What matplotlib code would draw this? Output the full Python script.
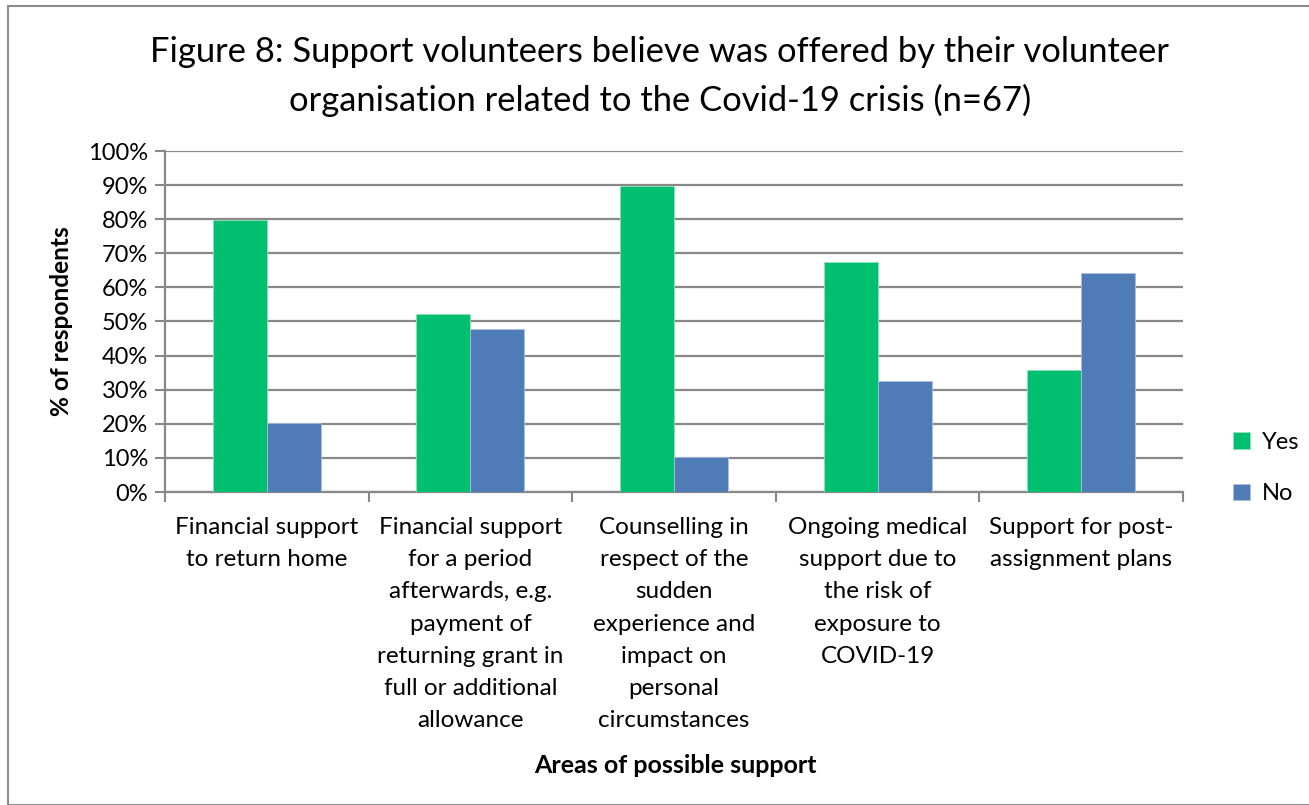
import matplotlib
matplotlib.use("Agg")
from matplotlib import pyplot as plt
from matplotlib.patches import Rectangle
from matplotlib.ticker import PercentFormatter
import numpy as np

plt.rcParams['font.family'] = ['Lato', 'DejaVu Sans']

categories = [
    "Financial support\nto return home",
    "Financial support\nfor a period\nafterwards, e.g.\npayment of\nreturning grant in\nfull or additional\nallowance",
    "Counselling in\nrespect of the\nsudden\nexperience and\nimpact on\npersonal\ncircumstances",
    "Ongoing medical\nsupport due to\nthe risk of\nexposure to\nCOVID-19",
    "Support for post-\nassignment plans",
]
yes_pct = [79.7, 52.2, 89.6, 67.4, 35.8]
no_pct = [20.3, 47.8, 10.4, 32.6, 64.2]

GREEN = "#00BF6F"
BLUE = "#4F7CB6"
GRID = "#888888"

W, H = 1309, 805
fig = plt.figure(figsize=(W / 100, H / 100), dpi=100)

# outer chart frame
fig.patches.append(Rectangle((8 / W, 0), 1.2, 1 - 6 / H, transform=fig.transFigure,
                             fill=False, edgecolor="#8c8c8c", linewidth=1.5))

ax = fig.add_axes([165 / W, 1 - 492 / H, (1183 - 165) / W, (492 - 151) / H])

x = np.arange(len(categories))
bw = 0.265
ax.bar(x - bw / 2, yes_pct, bw, color=GREEN, label="Yes", zorder=3,
       edgecolor="#8fe0bd", linewidth=0.6)
ax.bar(x + bw / 2, no_pct, bw, color=BLUE, label="No", zorder=3,
       edgecolor="#a9bfdc", linewidth=0.6)

ax.set_xlim(-0.5, len(categories) - 0.5)
ax.set_ylim(0, 100)
ax.set_yticks(np.arange(0, 101, 10))
ax.yaxis.set_major_formatter(PercentFormatter(decimals=0))
ax.yaxis.grid(True, color=GRID, linewidth=1.6, zorder=0)

ax.set_xticks(x)
ax.set_xticklabels(categories, fontsize=17.5, linespacing=1.66, va="top")
ax.set_xticks(np.arange(-0.5, len(categories)), minor=True)
ax.tick_params(axis="x", which="major", length=0, pad=18)
ax.tick_params(axis="x", which="minor", length=7, width=1.5, color=GRID)
ax.tick_params(axis="y", length=7, width=1.5, color=GRID, labelsize=17, pad=5)

for side in ("top", "right"):
    ax.spines[side].set_visible(False)
for side in ("left", "bottom"):
    ax.spines[side].set_color(GRID)
    ax.spines[side].set_linewidth(1.6)

fig.text(660 / W, 1 - 52 / H, "Figure 8: Support volunteers believe was offered by their volunteer",
         ha="center", va="center", fontsize=24.8)
fig.text(660 / W, 1 - 100 / H, "organisation related to the Covid-19 crisis (n=67)",
         ha="center", va="center", fontsize=24.8)

fig.text(62 / W, 1 - 321 / H, "% of respondents", rotation=90, ha="center", va="center",
         fontsize=17.6, fontweight="bold")
fig.text(675 / W, 1 - 765 / H, "Areas of possible support", ha="center", va="center",
         fontsize=18, fontweight="bold")

fig.legend(loc="center left", bbox_to_anchor=(1212 / W, 1 - 468 / H), frameon=False,
           fontsize=17, handlelength=0.7, handleheight=0.7, labelspacing=1.3,
           handletextpad=0.5)

fig.savefig("out.png", dpi=100)
